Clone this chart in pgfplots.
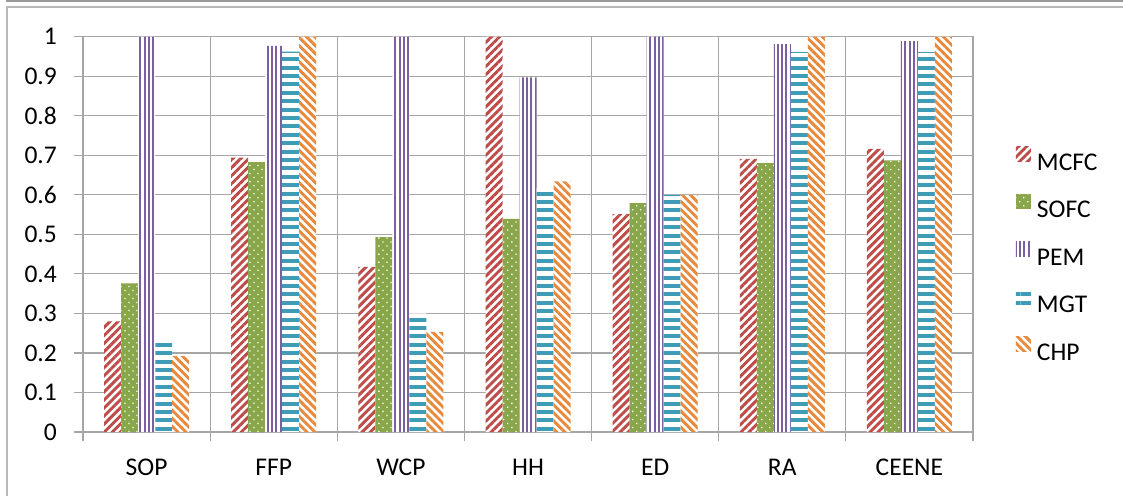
\documentclass[border=0pt]{standalone}
\usepackage{fontspec}
\setmainfont{Carlito}
\usepackage{pgfplots}
\pgfplotsset{compat=1.18}
\usetikzlibrary{patterns.meta}
\definecolor{cMCFC}{HTML}{BE4B48}
\definecolor{cSOFC}{HTML}{8AA64A}
\definecolor{cPEM}{HTML}{7B5F9F}
\definecolor{cMGT}{HTML}{3F9CB6}
\definecolor{cCHP}{HTML}{E8883A}
\definecolor{gridc}{HTML}{A6A6A6}
\begin{document}
\begin{tikzpicture}[x=1pt,y=1pt]
\useasboundingbox (0,0) rectangle (1123,496);
\draw[gray!80, line width=1.2pt] (7,496) -- (7,495) -- (1123,495);
\draw[gray!55, line width=1.2pt] (7,0) -- (7,489) -- (1123,489);
\begin{axis}[
  at={(83pt,64pt)}, anchor=south west,
  scale only axis, width=890pt, height=395.3pt,
  xmin=-0.5, xmax=6.5, ymin=0, ymax=1,
  ybar=0pt, bar width=17pt,
  xtick={-0.5,0.5,1.5,2.5,3.5,4.5,5.5,6.5},
  xticklabels={SOP,FFP,WCP,HH,ED,RA,CEENE},
  x tick label as interval,
  ytick={0,0.1,0.2,0.3,0.4,0.5,0.6,0.7,0.8,0.9,1},
  yticklabels={0,0.1,0.2,0.3,0.4,0.5,0.6,0.7,0.8,0.9,1},
  tick pos=left, tick align=outside,
  major tick length=9pt,
  tick style={draw=gridc, line width=1.2pt},
  xmajorgrids, ymajorgrids,
  major grid style={draw=gridc, line width=1.2pt},
  axis line style={draw=gridc, line width=1.2pt},
  tick label style={font=\fontsize{25.5}{30}\selectfont},
  xticklabel style={anchor=center, inner sep=0pt, yshift=-26pt},
  yticklabel style={anchor=east, inner sep=0pt, xshift=-17pt},
  legend image code/.code={\path[#1] (0pt,0pt) rectangle (15pt,15pt);},
  legend style={draw=none, fill=none, at={(1.0483,0.721)}, anchor=north west,
    inner sep=0pt, outer sep=0pt, row sep=24pt, column sep=6pt,
    font=\fontsize{25.5}{30}\selectfont,
    nodes={inner sep=0pt, text height=17pt, text depth=0pt}},
  legend cell align=left,
]
\addplot[draw=none, fill=white, postaction={pattern={Lines[angle=45,distance=5.7pt,line width=2.9pt]}, pattern color=cMCFC}]
  coordinates {(0,0.280) (1,0.694) (2,0.418) (3,1.000) (4,0.551) (5,0.691) (6,0.716)};
\addlegendentry{MCFC}
\addplot[draw=none, fill=cSOFC, postaction={pattern={Dots[angle=45,distance=5.7pt,radius=0.9pt]}, pattern color=white}]
  coordinates {(0,0.376) (1,0.683) (2,0.493) (3,0.539) (4,0.579) (5,0.680) (6,0.687)};
\addlegendentry{SOFC}
\addplot[draw=none, fill=white, postaction={pattern={Lines[angle=90,distance=4.25pt,line width=2pt]}, pattern color=cPEM}]
  coordinates {(0,1.000) (1,0.977) (2,1.000) (3,0.897) (4,1.000) (5,0.981) (6,0.989)};
\addlegendentry{PEM}
\addplot[draw=none, fill=white, postaction={pattern={Lines[angle=0,distance=8.4pt,line width=4pt]}, pattern color=cMGT}]
  coordinates {(0,0.231) (1,0.962) (2,0.300) (3,0.618) (4,0.600) (5,0.961) (6,0.961)};
\addlegendentry{MGT}
\addplot[draw=none, fill=white, postaction={pattern={Lines[angle=-45,distance=5.7pt,line width=2.9pt]}, pattern color=cCHP}]
  coordinates {(0,0.192) (1,1.000) (2,0.253) (3,0.634) (4,0.600) (5,1.000) (6,1.000)};
\addlegendentry{CHP}
\end{axis}
\end{tikzpicture}
\end{document}
